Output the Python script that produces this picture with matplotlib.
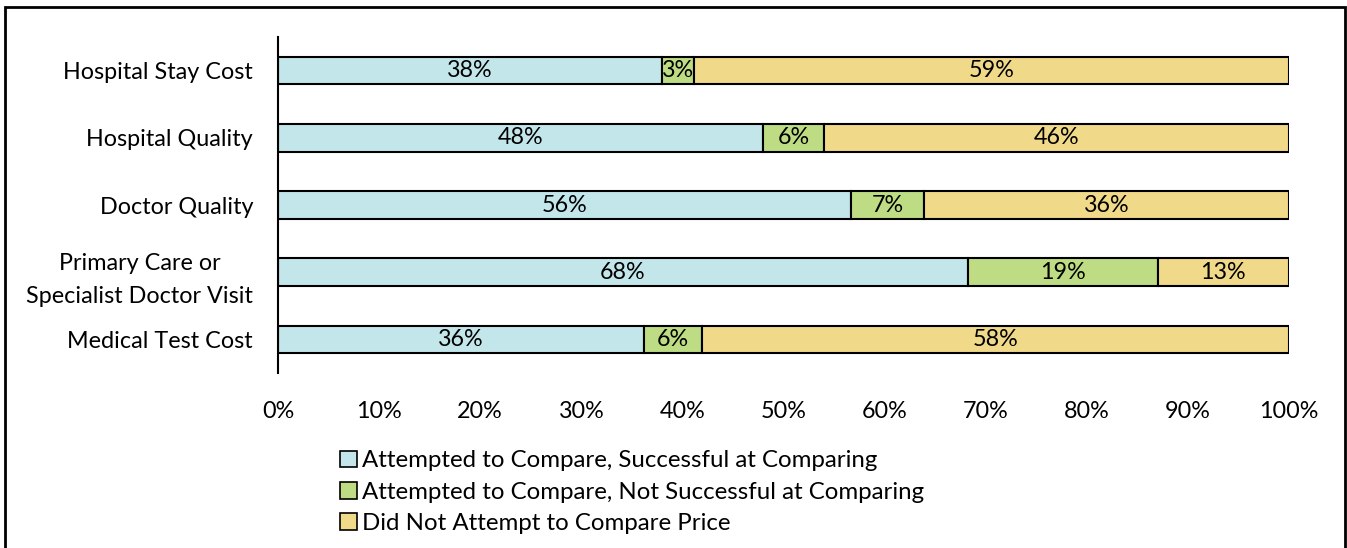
import matplotlib.pyplot as plt
import matplotlib.patches as mpatches
import numpy as np

plt.rcParams['font.family'] = ['Lato', 'DejaVu Sans']

categories = ['Hospital Stay Cost', 'Hospital Quality', 'Doctor Quality',
              'Primary Care or\nSpecialist Doctor Visit', 'Medical Test Cost']
successful = [38.0, 48.0, 56.7, 68.2, 36.2]
not_successful = [3.1, 6.0, 7.2, 18.8, 5.7]
not_attempted = [58.9, 46.0, 36.1, 13.0, 58.1]
successful_labels = ['38%', '48%', '56%', '68%', '36%']
not_successful_labels = ['3%', '6%', '7%', '19%', '6%']
not_attempted_labels = ['59%', '46%', '36%', '13%', '58%']
series_names = ['Attempted to Compare, Successful at Comparing',
                'Attempted to Compare, Not Successful at Comparing',
                'Did Not Attempt to Compare Price']
colors = ['#C3E6EB', '#BEDC83', '#F1D98A']

FS = 16.8

fig = plt.figure(figsize=(13.47, 5.48), dpi=100)
ax = fig.add_axes([0.2064, 0.3193, 0.7506, 0.6131])

y = np.arange(len(categories))
series = [successful, not_successful, not_attempted]
labels = [successful_labels, not_successful_labels, not_attempted_labels]
left = np.zeros(len(categories))
for vals, labs, col in zip(series, labels, colors):
    bars = ax.barh(y, vals, left=left, height=0.41, color=col,
                   edgecolor='black', linewidth=1.5)
    ax.bar_label(bars, labels=labs, label_type='center', fontsize=FS)
    left = left + np.array(vals)

ax.set_ylim(len(categories) - 0.5, -0.5)
ax.set_xlim(0, 100)
ax.set_yticks(y)
ax.set_yticklabels(categories, fontsize=FS, linespacing=1.7)
for t in ax.get_yticklabels():
    t.set_multialignment('center')
ax.set_xticks(np.arange(0, 101, 10))
ax.set_xticklabels([f'{v}%' for v in range(0, 101, 10)], fontsize=FS)
ax.tick_params(length=0)
ax.tick_params(axis='y', pad=18)
ax.tick_params(axis='x', pad=20)
for s in ['top', 'right', 'bottom']:
    ax.spines[s].set_visible(False)
ax.spines['left'].set_linewidth(1.5)

handles = [mpatches.Patch(facecolor=c, edgecolor='black', linewidth=1.2) for c in colors]
fig.legend(handles, series_names, loc='upper left', bbox_to_anchor=(0.2525, 0.178),
           frameon=False, fontsize=17.3, handlelength=0.7, handleheight=0.7,
           handletextpad=0.2, labelspacing=0.42, borderaxespad=0, borderpad=0)

# outer frame
frame = mpatches.Rectangle((5 / 1347, -0.1), 1340 / 1347, 1.1 - 7 / 548,
                           transform=fig.transFigure, fill=False,
                           edgecolor='black', linewidth=2, clip_on=False)
fig.patches.append(frame)

fig.savefig('out.png', dpi=100)
